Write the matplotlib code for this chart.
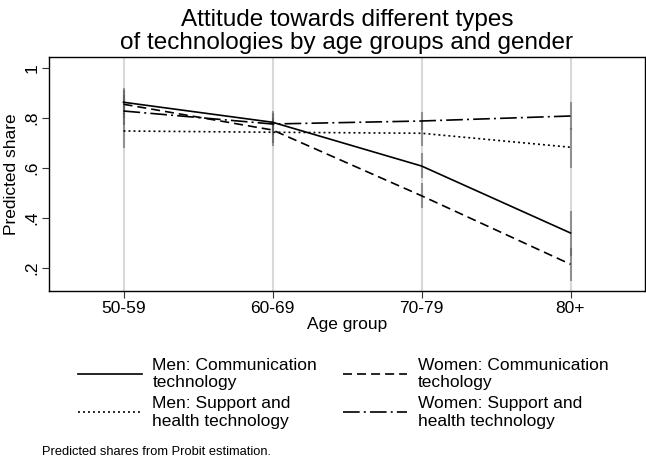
import matplotlib
matplotlib.use("Agg")
import matplotlib.pyplot as plt
import numpy as np

plt.rcParams['font.family'] = ['Liberation Sans', 'DejaVu Sans']
plt.rcParams['lines.scale_dashes'] = False

age_groups = ["50-59", "60-69", "70-79", "80+"]

men_comm = [0.863, 0.783, 0.608, 0.340]
men_comm_lo = [0.81, 0.74, 0.56, 0.25]
men_comm_hi = [0.92, 0.83, 0.66, 0.43]

women_comm = [0.855, 0.752, 0.489, 0.215]
women_comm_lo = [0.80, 0.70, 0.44, 0.15]
women_comm_hi = [0.91, 0.80, 0.54, 0.28]

men_supp = [0.748, 0.743, 0.739, 0.683]
men_supp_lo = [0.68, 0.69, 0.69, 0.60]
men_supp_hi = [0.82, 0.79, 0.79, 0.76]

women_supp = [0.828, 0.776, 0.788, 0.808]
women_supp_lo = [0.77, 0.73, 0.75, 0.75]
women_supp_hi = [0.89, 0.82, 0.825, 0.864]

labels = ["Men: Communication\ntechnology",
          "Women: Communication\ntechology",
          "Men: Support and\nhealth technology",
          "Women: Support and\nhealth technology"]

yticks = [0.2, 0.4, 0.6, 0.8, 1.0]
yticklabels = [".2", ".4", ".6", ".8", "1"]

fig = plt.figure(figsize=(6.46, 4.61), dpi=100)
ax = fig.add_axes([49/646, 1-291/461, (645-49)/646, (291-57)/461])

x = np.arange(1, len(age_groups) + 1)

for xi in x:
    ax.axvline(xi, color='#d8d8d8', lw=1.5, zorder=0)

series = [
    (men_comm, men_comm_lo, men_comm_hi, dict(linestyle='-')),
    (women_comm, women_comm_lo, women_comm_hi, dict(dashes=(6.5, 3.6))),
    (men_supp, men_supp_lo, men_supp_hi, dict(dashes=(1.4, 2.2))),
    (women_supp, women_supp_lo, women_supp_hi, dict(dashes=(12, 3, 1.4, 3))),
]

for vals, lo, hi, st in series:
    ax.vlines(x, lo, hi, color='#555555', alpha=0.55, lw=1.5, zorder=1)

handles = []
for (vals, lo, hi, st), lab in zip(series, labels):
    h, = ax.plot(x, vals, color='black', lw=1.2, label=lab, zorder=3, **st)
    handles.append(h)

ax.set_xlim(0.5, 4.5)
ax.set_ylim(0.108, 1.044)
ax.set_xticks(x)
ax.set_xticklabels(age_groups, fontsize=12.5)
ax.set_yticks(yticks)
ax.set_yticklabels(yticklabels, fontsize=12.5, rotation=90, va='center')
ax.tick_params(axis='both', direction='out', length=5, width=0.8, color='#333333', pad=2)
ax.set_xlabel("Age group", fontsize=12.5, labelpad=1)
ax.set_ylabel("Predicted share", fontsize=12.5, labelpad=4)
for s in ax.spines.values():
    s.set_linewidth(1.0)

ax_center = (49 + 645) / 2 / 646
fig.text(ax_center, 0.98, "Attitude towards different types\nof technologies by age groups and gender",
         ha='center', va='top', fontsize=17.5, linespacing=1.05)

order = [0, 2, 1, 3]
leg = fig.legend([handles[i] for i in order], [labels[i] for i in order], ncol=2,
                 loc='upper left', bbox_to_anchor=(69/646, 1-349/461), frameon=False,
                 fontsize=12.5, handlelength=3.7, handletextpad=0.6,
                 columnspacing=1.5, labelspacing=0.35, borderpad=0)
for t in leg.get_texts():
    t.set_linespacing(1.2)

fig.text(42/646, 1-452/461, "Predicted shares from Probit estimation.", fontsize=9.3,
         va='center', ha='left')

fig.savefig("out.png", dpi=100)
